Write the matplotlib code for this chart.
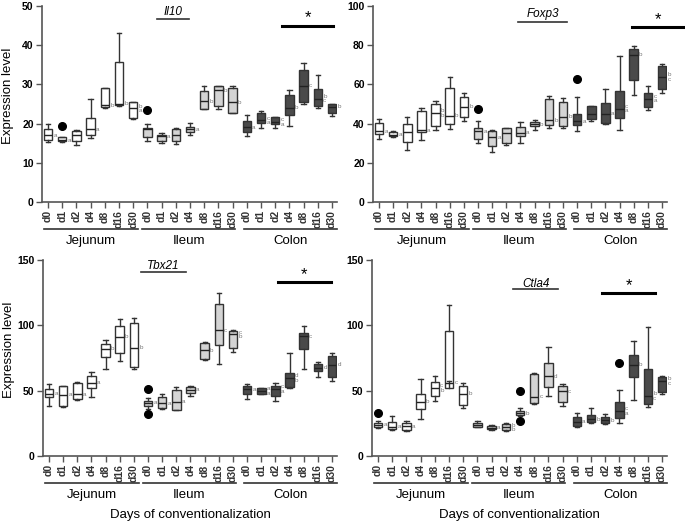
import numpy as np
import matplotlib
matplotlib.use("Agg")
import matplotlib.pyplot as plt
import matplotlib.transforms as mtransforms

plt.rcParams['font.family'] = ['Liberation Sans', 'DejaVu Sans']

# Tick labels and groups
days = ['d0', 'd1', 'd2', 'd4', 'd8', 'd16', 'd30']
groups = ['Jejunum', 'Ileum', 'Colon']
group_colors = ['white', '#d4d4d4', '#4a4a4a']

# Il10 (whislo, q1, med, q3, whishi) per box, jejunum d0..d30, ileum, colon
il10_lo = [15.2, 15.3, 14.6, 16.4, 24.1, 24.4, 21.3, 15.6, 15.1, 14.9, 17.2, 23.7, 23.8, 22.6, 16.9, 18.9, 18.9, 19.3, 25.1, 24.1, 21.9]
il10_q1 = [15.8, 15.5, 15.6, 17.2, 24.3, 24.7, 21.5, 16.6, 15.5, 15.6, 17.8, 23.8, 24.6, 22.6, 17.8, 20.2, 19.8, 22.1, 25.6, 24.4, 22.6]
il10_med = [17.0, 15.7, 17.2, 18.6, 24.7, 25.0, 23.9, 18.5, 16.8, 17.0, 18.5, 25.7, 28.5, 25.4, 19.1, 20.8, 20.4, 24.1, 29.6, 26.4, 24.3]
il10_q3 = [18.7, 16.6, 18.1, 21.5, 29.1, 35.8, 25.5, 18.9, 17.1, 18.5, 19.2, 28.4, 29.6, 29.1, 20.7, 22.6, 21.7, 27.4, 33.8, 28.9, 25.0]
il10_hi = [19.8, 16.7, 18.3, 26.2, 29.2, 43.0, 25.5, 19.8, 17.6, 18.9, 20.2, 29.7, 29.7, 29.7, 22.1, 23.1, 21.8, 28.5, 35.5, 32.5, 25.1]
il10_out = {1: [19.3], 7: [23.4]}
il10_let = ['a', 'a', '', 'a', 'b', 'b', 'b\na', '', 'a', '', 'a', 'b', 'b', 'b', 'a', 'c\na', 'c\na', 'b', 'c', 'b\nc', 'b']

foxp3_lo = [32.0, 33.2, 26.5, 31.5, 36.5, 37.0, 41.5, 30.0, 25.5, 29.0, 30.2, 36.6, 37.5, 38.0, 36.3, 41.2, 40.0, 36.6, 54.5, 46.8, 55.4]
foxp3_q1 = [34.5, 33.6, 30.5, 35.5, 39.0, 40.0, 43.5, 32.0, 28.5, 30.0, 33.7, 38.7, 39.5, 38.7, 39.5, 42.1, 40.5, 42.9, 62.2, 48.6, 57.4]
foxp3_med = [36.0, 34.4, 35.5, 36.5, 45.5, 44.0, 48.5, 36.0, 33.0, 35.0, 35.3, 39.7, 41.7, 43.4, 41.2, 44.8, 45.1, 47.7, 75.0, 52.8, 63.9]
foxp3_q3 = [40.5, 35.6, 40.0, 46.5, 50.0, 58.0, 53.5, 38.0, 36.0, 38.0, 38.2, 40.9, 52.8, 51.1, 45.1, 48.9, 50.6, 56.7, 77.9, 55.4, 69.3]
foxp3_hi = [42.5, 36.3, 43.5, 48.0, 51.5, 64.0, 55.5, 41.5, 36.5, 38.0, 40.9, 41.7, 54.2, 53.2, 53.7, 48.9, 57.9, 74.4, 79.6, 59.1, 70.2]
foxp3_out = {7: [47.5], 14: [62.5]}
foxp3_let = ['a', 'a', '', 'a', 'b\nb', 'b', 'b', 'a', 'a', '', 'a', 'b', 'b', 'b', 'a', '', 'a', 'c\na', 'b', 'c\na', 'b\nc']

tbx21_lo = [38.4, 37.4, 42.7, 45.3, 66.9, 72.8, 66.4, 36.1, 35.6, 35.1, 45.8, 73.3, 70.2, 79.6, 43.3, 47.1, 42.2, 52.4, 66.7, 60.1, 57.5]
tbx21_q1 = [44.8, 37.9, 43.3, 51.9, 75.8, 78.9, 68.2, 38.4, 36.6, 35.4, 48.3, 74.0, 84.7, 82.7, 47.8, 47.6, 45.8, 52.9, 81.9, 65.4, 60.1]
tbx21_med = [47.6, 46.8, 47.3, 56.0, 82.2, 91.1, 83.0, 40.7, 40.2, 41.5, 50.6, 80.9, 96.2, 93.1, 51.1, 49.9, 51.4, 59.5, 91.6, 67.7, 69.7]
tbx21_q3 = [50.9, 53.4, 56.0, 61.6, 85.5, 99.5, 102.0, 42.2, 44.8, 50.4, 52.9, 86.5, 116.0, 95.7, 53.7, 52.2, 53.7, 63.9, 94.1, 70.2, 76.6]
tbx21_hi = [55.0, 53.7, 56.7, 64.4, 88.5, 105.0, 105.8, 44.3, 47.8, 52.7, 53.4, 87.3, 124.7, 96.2, 55.0, 52.4, 55.5, 79.1, 99.5, 72.3, 78.9]
tbx21_out = {7: [50.9, 32.1]}
tbx21_let = ['a', 'a', 'a', 'a', 'b', 'b', 'b', 'a', 'a', 'a', 'a', 'b', 'c', 'c\nb', 'a', 'a\na', 'c\na', 'd\nb', 'c', 'd', 'd']

ctla4_lo = [21.1, 19.8, 19.3, 28.2, 42.0, 57.5, 37.0, 21.9, 19.8, 19.3, 30.5, 39.7, 45.8, 38.2, 21.9, 24.9, 24.4, 24.9, 42.7, 37.7, 47.8]
ctla4_q1 = [21.9, 20.6, 19.8, 36.1, 45.8, 52.4, 39.4, 22.4, 20.4, 19.8, 31.3, 40.2, 52.9, 41.0, 22.9, 25.7, 24.9, 28.8, 60.6, 39.7, 49.1]
ctla4_med = [23.9, 22.4, 22.9, 41.5, 52.2, 56.2, 47.8, 23.9, 21.6, 21.9, 32.8, 45.3, 61.1, 49.6, 26.2, 28.0, 27.5, 34.4, 70.0, 45.8, 57.5]
ctla4_q3 = [25.2, 25.7, 25.4, 47.8, 56.7, 95.4, 53.4, 25.2, 22.9, 24.2, 34.1, 63.1, 71.5, 53.7, 30.0, 31.0, 30.0, 41.5, 77.6, 66.9, 60.6]
ctla4_hi = [26.5, 30.5, 27.0, 59.3, 61.1, 115.5, 55.5, 27.0, 23.7, 24.9, 37.1, 63.6, 83.5, 55.0, 32.6, 36.9, 32.1, 50.4, 88.0, 98.7, 61.1]
ctla4_out = {0: [33.1], 10: [49.6, 26.7], 17: [71.5]}
ctla4_let = ['a', 'a', 'a', 'b', 'c\nb', 'c', 'b', '', 'a', 'b\nb', 'b', 'c', 'd', 'c', 'a', 'b', 'b', 'c\na', 'b', 'b\nc', 'b\nc']

panels = [
    dict(name='Il10', lo=il10_lo, q1=il10_q1, med=il10_med, q3=il10_q3, hi=il10_hi, out=il10_out, let=il10_let,
         ymax=50, yticks=[0, 10, 20, 30, 40, 50], title_y=48.5, uline_y=46.8, uline=(7.7, 9.95),
         star=(16.5, 20.1), star_y=45.0, rect=[42, 6, 295, 196]),
    dict(name='Foxp3', lo=foxp3_lo, q1=foxp3_q1, med=foxp3_med, q3=foxp3_q3, hi=foxp3_hi, out=foxp3_out, let=foxp3_let,
         ymax=100, yticks=[0, 20, 40, 60, 80, 100], title_y=96.0, uline_y=91.8, uline=(9.8, 13.3),
         star=(17.9, 21.5), star_y=89.3, rect=[373, 6, 294, 196]),
    dict(name='Tbx21', lo=tbx21_lo, q1=tbx21_q1, med=tbx21_med, q3=tbx21_q3, hi=tbx21_hi, out=tbx21_out, let=tbx21_let,
         ymax=150, yticks=[0, 50, 100, 150], title_y=145.5, uline_y=141.0, uline=(6.5, 9.7),
         star=(16.2, 19.9), star_y=132.8, rect=[43, 260, 294, 196]),
    dict(name='Ctla4', lo=ctla4_lo, q1=ctla4_q1, med=ctla4_med, q3=ctla4_q3, hi=ctla4_hi, out=ctla4_out, let=ctla4_let,
         ymax=150, yticks=[0, 50, 100, 150], title_y=131.5, uline_y=127.5, uline=(9.5, 12.7),
         star=(15.8, 19.5), star_y=124.4, rect=[372, 260, 295, 196]),
]

W, H = 685, 522
fig = plt.figure(figsize=(W / 100, H / 100), dpi=100)

positions = np.arange(21)
labels = days * 3
colors = [c for c in group_colors for _ in days]
group_spans = [(-0.3, 6.35), (6.65, 13.2), (13.8, 20.35)]
axis_col = '#555555'

for k, p in enumerate(panels):
    l, t, w, h = p['rect']
    ax = fig.add_axes([l / W, 1 - (t + h) / H, w / W, h / H])
    stats = []
    for i in range(21):
        stats.append(dict(whislo=p['lo'][i], q1=p['q1'][i], med=p['med'][i], q3=p['q3'][i],
                          whishi=p['hi'][i], fliers=p['out'].get(i, [])))
    bp = ax.bxp(stats, positions=positions, widths=0.6, patch_artist=True, showfliers=True,
                boxprops=dict(edgecolor='#333333', linewidth=1.0),
                medianprops=dict(color='#222222', linewidth=1.0),
                whiskerprops=dict(color='#333333', linewidth=1.0),
                capprops=dict(color='#333333', linewidth=1.0),
                capwidths=0.3,
                flierprops=dict(marker='o', markerfacecolor='black', markeredgecolor='black', markersize=5.5))
    for patch, c in zip(bp['boxes'], colors):
        patch.set_facecolor(c)
    for fl in bp['fliers']:
        fl.set_clip_on(False)

    # significance letters
    for i in range(21):
        if p['let'][i]:
            ax.text(positions[i] + 0.38, p['med'][i], p['let'][i], fontsize=4.5, color='#777777',
                    ha='left', va='center', linespacing=0.9)

    ax.set_xlim(-0.42, 20.35)
    ax.set_ylim(0, p['ymax'])
    ax.set_yticks(p['yticks'])
    ax.set_xticks(positions)
    ax.set_xticklabels(labels, rotation=90, fontsize=7.5, fontweight='bold', color='#333333')
    ax.tick_params(axis='y', labelsize=7.5, width=1, length=4, color=axis_col, pad=2)
    for lab in ax.get_yticklabels():
        lab.set_fontweight('bold')
    ax.tick_params(axis='x', width=1, length=4, color=axis_col, pad=2)
    for s in ['top', 'right']:
        ax.spines[s].set_visible(False)
    for s in ['left', 'bottom']:
        ax.spines[s].set_color(axis_col)
        ax.spines[s].set_linewidth(1.2)

    trans = mtransforms.blended_transform_factory(ax.transData, ax.transAxes)
    for (a, b), g in zip(group_spans, groups):
        ax.plot([a, b], [-0.138, -0.138], color='#333333', lw=1.2, transform=trans, clip_on=False)
        ax.text((a + b) / 2, -0.2, g, transform=trans, ha='center', va='center', fontsize=9.5)

    # gene name with underline
    ax.text(sum(p['uline']) / 2, p['title_y'], p['name'], style='italic', fontsize=8.5,
            ha='center', va='center', clip_on=False)
    ax.plot(p['uline'], [p['uline_y']] * 2, color='#333333', lw=1.2, clip_on=False)
    # significance bar
    ax.plot(p['star'], [p['star_y']] * 2, color='black', lw=2.2, clip_on=False)
    ax.text(sum(p['star']) / 2, p['star_y'], '*', fontsize=12, ha='center', va='bottom', clip_on=False)

    if k % 2 == 0:
        ax.set_ylabel('Expression level', fontsize=9.5)
        ax.yaxis.set_label_coords(-0.095, 0.54)
    if k >= 2:
        ax.text(0.5, -0.3, 'Days of conventionalization', transform=ax.transAxes,
                ha='center', va='center', fontsize=9.5)

fig.savefig('out.png', dpi=100)
